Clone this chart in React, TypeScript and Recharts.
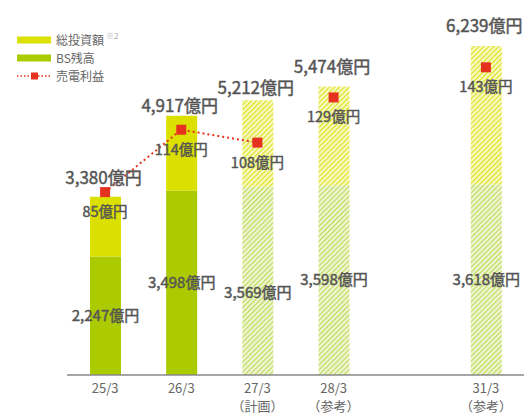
import {
  ComposedChart,
  Bar,
  Line,
  XAxis,
  YAxis,
  Legend,
  Cell,
  LabelList,
} from 'recharts'

const periods = ['25/3', '26/3', '27/3', '28/3', '', '31/3']
const periodNotes = ['', '', '（計画）', '（参考）', '', '（参考）']
const totalInvestment = [3380, 4917, 5212, 5474, null, 6239]
const bsBalance = [2247, 3498, 3569, 3598, null, 3618]
const salesProfit = [85, 114, 108, 129, null, 143]
const isForecast = [false, false, true, true, false, true]
const profitLinked = [true, true, true, false, false, false]

// label lifts above bar tops / shifts inside bars (layout only)
const totalLabelLift = [13, 4, 6, 13, 0, 14]
const bsLabelShift = [0, 0, 12, 0, 0, 0]

const YELLOW = '#dbe000'
const GREEN = '#abca00'
const RED = '#e5321f'
const TEXT = '#555'
const FONT = '"Noto Sans CJK JP", "Noto Sans", sans-serif'

const data = periods.map((period, i) => {
  const total = totalInvestment[i]
  const bs = bsBalance[i]
  return {
    period,
    note: periodNotes[i],
    total,
    bs,
    rest: total != null && bs != null ? total - bs : null,
    profit: salesProfit[i],
    profitLine: profitLinked[i] ? salesProfit[i] : null,
  }
})

const fmt = (v: number) => `${v.toLocaleString('en-US')}億円`

// a thin outline gives the labels a medium weight
const medium = { stroke: TEXT, strokeWidth: 0.45, paintOrder: 'stroke' as const }

function PeriodTick(props: any) {
  const { x, y, payload, index } = props
  return (
    <text x={x} textAnchor="middle" fill="#666" fontSize={13} fontFamily={FONT}>
      <tspan x={x} y={y + 18}>{payload.value}</tspan>
      {periodNotes[index] ? <tspan x={x} y={y + 36}>{periodNotes[index]}</tspan> : null}
    </text>
  )
}

function TotalLabel(props: any) {
  const { x, y, width, value } = props
  if (value == null) return null
  const i = totalInvestment.indexOf(value)
  return (
    <text
      x={x + width / 2 - 2}
      y={y - totalLabelLift[i]}
      textAnchor="middle"
      fill={TEXT}
      fontSize={17}
      fontFamily={FONT}
      style={medium}
    >
      {fmt(value)}
    </text>
  )
}

function BsLabel(props: any) {
  const { x, y, width, height, value } = props
  if (value == null) return null
  const i = bsBalance.indexOf(value)
  return (
    <text
      x={x + width / 2}
      y={y + height / 2 + 5 + bsLabelShift[i]}
      textAnchor="middle"
      fill={TEXT}
      fontSize={15}
      fontFamily={FONT}
      style={medium}
    >
      {fmt(value)}
    </text>
  )
}

function ProfitLabel(props: any) {
  const { x, y, value } = props
  if (value == null) return null
  return (
    <text x={x} y={y + 25} textAnchor="middle" fill={TEXT} fontSize={14.5} fontFamily={FONT} style={medium}>
      {fmt(value)}
    </text>
  )
}

function SquareDot(props: any) {
  const { cx, cy, value } = props
  if (value == null || cx == null || cy == null) return null
  return <rect x={cx - 5} y={cy - 5} width={10} height={10} fill={RED} />
}

function LegendBox() {
  const rows = [
    { label: '総投資額', color: YELLOW, kind: 'bar', sup: '※2' },
    { label: 'BS残高', color: GREEN, kind: 'bar' },
    { label: '売電利益', color: RED, kind: 'line' },
  ]
  return (
    <svg width={140} height={70} style={{ display: 'block' }}>
      {rows.map((r, i) => {
        const cy = 12 + i * 18
        return (
          <g key={r.label}>
            {r.kind === 'bar' ? (
              <rect x={0} y={cy - 3.5} width={34} height={7} fill={r.color} />
            ) : (
              <g>
                <line x1={0} y1={cy} x2={34} y2={cy} stroke={RED} strokeWidth={1.5} strokeDasharray="1.5 2" />
                <rect x={14} y={cy - 3.5} width={7} height={7} fill={RED} />
              </g>
            )}
            <text x={39} y={cy + 4.5} fill="#666" fontSize={12} fontFamily={FONT}>
              {r.label}
              {r.sup ? (
                <tspan fontSize={8} fill="#aaa" dx={2} dy={-6}>
                  {r.sup}
                </tspan>
              ) : null}
            </text>
          </g>
        )
      })}
    </svg>
  )
}

export default function App() {
  return (
    <div style={{ position: 'absolute', left: 0, top: 0, width: 528, height: 415, background: '#fff' }}>
      <ComposedChart
        width={528}
        height={415}
        data={data}
        margin={{ top: 6, right: 4, bottom: 0, left: 67 }}
        barSize={31}
      >
        <defs>
          <pattern id="hatchYellow" patternUnits="userSpaceOnUse" width={3.5} height={3.5} patternTransform="rotate(45)">
            <rect width={3.5} height={3.5} fill="#f6f8c0" />
            <line x1={0} y1={0} x2={0} y2={3.5} stroke="#dde21a" strokeWidth={2.2} />
          </pattern>
          <pattern id="hatchGreen" patternUnits="userSpaceOnUse" width={3.5} height={3.5} patternTransform="rotate(45)">
            <rect width={3.5} height={3.5} fill="#eef5d2" />
            <line x1={0} y1={0} x2={0} y2={3.5} stroke="#c0d955" strokeWidth={2.2} />
          </pattern>
        </defs>
        <XAxis
          dataKey="period"
          interval={0}
          tickLine={false}
          tickSize={0}
          tickMargin={0}
          height={40}
          axisLine={{ stroke: '#888', strokeWidth: 1.5 }}
          tick={<PeriodTick />}
        />
        <YAxis yAxisId="left" domain={[0, 7000]} hide />
        <YAxis yAxisId="right" orientation="right" domain={[0, 171.5]} hide />
        <Legend
          layout="vertical"
          align="center"
          verticalAlign="middle"
          wrapperStyle={{ position: 'absolute', left: 17, top: 28, width: 140 }}
          content={() => <LegendBox />}
        />
        <Bar yAxisId="left" dataKey="bs" stackId="inv" fill={GREEN} isAnimationActive={false}>
          {data.map((d, i) => (
            <Cell key={d.period + i} fill={isForecast[i] ? 'url(#hatchGreen)' : GREEN} />
          ))}
          <LabelList dataKey="bs" content={<BsLabel />} />
        </Bar>
        <Bar yAxisId="left" dataKey="rest" stackId="inv" fill={YELLOW} isAnimationActive={false}>
          {data.map((d, i) => (
            <Cell key={d.period + i} fill={isForecast[i] ? 'url(#hatchYellow)' : YELLOW} />
          ))}
          <LabelList dataKey="total" content={<TotalLabel />} />
        </Bar>
        <Line
          yAxisId="right"
          dataKey="profitLine"
          stroke={RED}
          strokeWidth={2}
          strokeDasharray="2 3"
          dot={false}
          activeDot={false}
          connectNulls={false}
          isAnimationActive={false}
        />
        <Line
          yAxisId="right"
          dataKey="profit"
          stroke="none"
          dot={<SquareDot />}
          activeDot={false}
          isAnimationActive={false}
        >
          <LabelList dataKey="profit" content={<ProfitLabel />} />
        </Line>
      </ComposedChart>
    </div>
  )
}
